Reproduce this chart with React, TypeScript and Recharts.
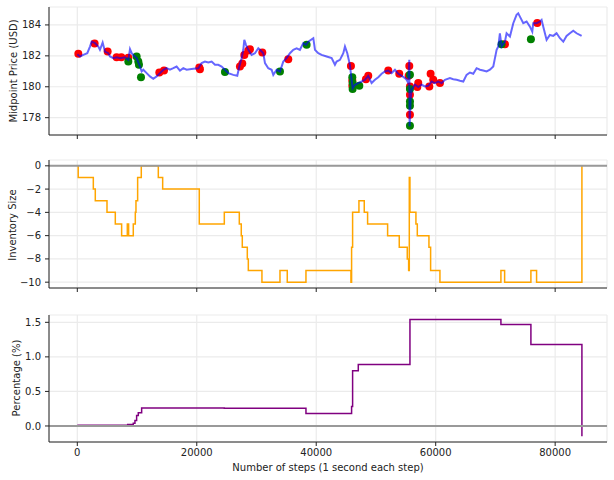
import React from 'react';
import {
  ComposedChart, Line, Scatter, XAxis, YAxis, CartesianGrid, ReferenceLine,
} from 'recharts';

// shared x axis (steps)
const xTicks = [0, 20000, 40000, 60000, 80000];
const xDomain = [-4740, 88680];

// midpoint price
const priceSteps = [
  0, 450, 1000, 1670, 2120, 2400, 2960, 3520, 3790, 4240,
  4630, 5190, 5470, 6030, 6580, 7140, 7980, 8540, 8820, 9100,
  9370, 9930, 10490, 10770, 11050, 11610, 12160, 12720, 13280, 13840,
  14400, 14950, 15510, 16070, 16630, 17190, 17740, 18300, 19420, 20260,
  20810, 21370, 21930, 22490, 23050, 23600, 24160, 24720, 25280, 26110,
  26780, 27120, 27510, 27790, 27960, 28240, 28630, 29180, 29740, 30300,
  30580, 31140, 31420, 31970, 32530, 32810, 33370, 33930, 34480, 35040,
  35600, 36160, 36720, 37270, 37830, 38280, 38670, 39510, 39790, 40340,
  40900, 41740, 42580, 43130, 43410, 43970, 44530, 44810, 45200, 45640,
  45920, 46090, 46480, 47040, 47600, 48160, 48710, 49270, 49830, 50390,
  50950, 51500, 52060, 52620, 53180, 53740, 54290, 54850, 55130, 55410,
  55580, 55630, 55800, 55970, 56530, 57080, 57640, 58200, 58760, 59320,
  59870, 60430, 60990, 61550, 62380, 62940, 63500, 64060, 64620, 65170,
  65730, 66290, 66850, 67410, 67960, 68520, 69080, 69640, 69920, 70200,
  70480, 70750, 71030, 71590, 71870, 72430, 72990, 73540, 73820, 74100,
  74660, 75220, 75780, 76170, 76330, 76890, 77450, 77730, 78010, 78570,
  79120, 79680, 80240, 80800, 81360, 81910, 82470, 83030, 83590, 84430,
];
const priceValues = [
  182.11, 181.96, 182.06, 182.17, 182.6, 182.92, 182.82, 182.6, 182.39, 182.86,
  182.28, 182.17, 181.96, 181.85, 181.91, 181.85, 181.91, 181.74, 182.43, 182.17,
  182.06, 181.85, 181.31, 180.99, 181.1, 180.88, 180.67, 180.52, 180.67, 180.88,
  181.1, 181.2, 181.1, 181.2, 181.31, 181.05, 181.2, 181.1, 181.16, 181.2,
  181.53, 181.63, 181.57, 181.63, 181.42, 181.42, 181.31, 181.1, 180.88, 180.77,
  180.71, 181.31, 181.85, 182.39, 183.03, 182.71, 182.39, 182.06, 182.17, 182.49,
  182.39, 182.17, 181.53, 181.2, 181.1, 180.77, 181.1, 180.99, 181.63, 181.85,
  182.17, 182.39, 182.49, 182.39, 182.82, 182.71, 182.92, 183.14, 182.39, 182.17,
  182.06, 181.96, 181.85, 181.42, 181.63, 181.74, 182.17, 182.6, 182.17, 181.42,
  180.45, 179.91, 180.13, 180.24, 180.34, 180.45, 180.71, 180.24, 180.45, 180.62,
  180.84, 180.99, 181.05, 180.88, 181.1, 180.84, 180.71, 180.56, 180.45, 180.24,
  181.74, 177.44, 179.16, 179.81, 180.13, 179.98, 180.13, 180.02, 180.06, 180.34,
  180.24, 180.34, 180.24, 180.45, 180.56, 180.49, 180.45, 180.39, 180.34, 180.77,
  180.92, 180.84, 181.2, 181.1, 181.05, 180.99, 181.1, 181.31, 181.85, 182.39,
  182.6, 183.46, 182.6, 182.92, 183.46, 183.25, 184.11, 184.65, 184.75, 184.54,
  184.11, 184.22, 183.89, 183.57, 184.11, 184.11, 184.22, 184.32, 183.89, 183.03,
  183.35, 183.29, 183.46, 183.14, 182.92, 183.29, 183.46, 183.63, 183.46, 183.29,
];

// executed trades
const sellSteps = [
  170, 2900, 5080, 6580, 7370, 8540, 13730, 14510, 20420, 20530,
  27230, 27620, 27960, 28630, 28900, 30970, 35320, 45810, 46040, 46040,
  48320, 48710, 52060, 53900, 55580, 55470, 55690, 55690, 55690, 56920,
  57080, 58930, 59150, 59590, 60710, 71590, 77000,
];
const sellPrices = [
  182.13, 182.8, 182.28, 181.91, 181.91, 181.87, 180.92, 181.05, 181.25, 181.14,
  181.31, 181.51, 182.06, 182.34, 182.43, 182.22, 181.78, 181.35, 180.41, 180.06,
  180.49, 180.71, 181.05, 180.84, 181.35, 180.71, 180.02, 179.48, 178.19, 179.98,
  180.24, 180.02, 180.84, 180.45, 180.24, 182.75, 184.13,
];
const buySteps = [
  8540, 9930, 10210, 10320, 10660, 24720, 33930, 38390, 46040, 46090,
  46090, 47210, 55690, 55690, 55690, 55690, 55690, 71030, 75940,
];
const buyPrices = [
  181.63, 181.96, 181.63, 181.42, 180.62, 180.95, 180.99, 182.71, 180.62, 180.24,
  179.85, 180.06, 180.77, 179.85, 179.05, 178.77, 177.48, 182.75, 183.08,
];

// inventory
const invSteps = [
  0, 150, 2680, 3010, 4970, 6360, 7420, 8370, 8590, 9370,
  9710, 9820, 10100, 10710, 13560, 14290, 20420, 24610, 27120, 27450,
  27620, 28460, 28630, 30910, 33930, 35150, 38280, 45810, 45920, 46090,
  47150, 48040, 48600, 51950, 53900, 55240, 55470, 55580, 55690, 56690,
  56920, 58870, 59150, 60710, 70920, 71540, 75940, 76890, 84480,
];
const invValues = [
  0, -1, -2, -3, -4, -5, -6, -5, -6, -5,
  -4, -3, -1, 0, -1, -2, -5, -4, -5, -6,
  -7, -8, -9, -10, -9, -10, -9, -10, -7, -4,
  -3, -4, -5, -6, -7, -8, -9, -1, -4, -5,
  -6, -7, -9, -10, -9, -10, -9, -10, 0,
];

// pnl in percent
const pnlSteps = [0, 8430, 9370, 9650, 9930, 10210, 10770, 24610, 38280, 45920, 46090, 47040, 55690, 70920, 75940, 84480];
const pnlValues = [0.01, 0.02, 0.04, 0.08, 0.15, 0.19, 0.26, 0.255, 0.18, 0.28, 0.8, 0.89, 1.54, 1.47, 1.18, -0.15];

const priceTicks = [178, 180, 182, 184];
const invTicks = [0, -2, -4, -6, -8, -10];
const pnlTicks = [0, 0.5, 1, 1.5];

const zip = (xs: number[], ys: number[]) => xs.map((x, i) => ({ x, y: ys[i] }));
const priceData = zip(priceSteps, priceValues);
const sellData = zip(sellSteps, sellPrices);
const buyData = zip(buySteps, buyPrices);
const invData = zip(invSteps, invValues);
const pnlData = zip(pnlSteps, pnlValues);

const FONT = '"DejaVu Sans", Arial, sans-serif';
const INK = '#222222';
const GRID = '#ebebeb';
const tickStyle = { fontSize: 10, fill: INK, fontFamily: FONT };
const minus = (v: number) => String(v).replace('-', '\u2212');

const noLabel = () => <g />;

function dot(color: string) {
  return (p: any) => <circle cx={p.cx} cy={p.cy} r={4} fill={color} />;
}

function YLabel({ text, x, y }: { text: string; x: number; y: number }) {
  return (
    <div style={{
      position: 'absolute', left: x, top: y, fontSize: 10, color: INK, fontFamily: FONT,
      transform: 'translate(-50%, -50%) rotate(-90deg)', whiteSpace: 'nowrap',
    }}>{text}</div>
  );
}

export default function App() {
  return (
    <div style={{ position: 'absolute', left: 0, top: 0, width: 614, height: 480, background: '#fff', fontFamily: FONT }}>
      <div style={{ position: 'absolute', left: 0, top: 0 }}>
        <ComposedChart width={614} height={150} margin={{ top: 7, right: 7, bottom: 0, left: 0 }}>
          <CartesianGrid stroke={GRID} strokeWidth={1.2} />
          <XAxis dataKey="x" type="number" domain={xDomain} ticks={xTicks} allowDataOverflow
            height={15} tick={noLabel} tickSize={4} axisLine={{ stroke: INK }} tickLine={{ stroke: INK }} />
          <XAxis xAxisId="top" orientation="top" type="number" domain={xDomain} height={0}
            tick={false} tickLine={false} axisLine={{ stroke: INK }} />
          <YAxis type="number" domain={[176.88, 185.16]} ticks={priceTicks} allowDataOverflow width={49}
            tick={tickStyle} tickSize={4} tickMargin={4} axisLine={{ stroke: INK }} tickLine={{ stroke: INK }} />
          <YAxis yAxisId="right" orientation="right" width={0} domain={[0, 1]} tick={false} tickLine={false}
            axisLine={{ stroke: INK }} />
          <Scatter data={sellData} dataKey="y" fill="#ff0000" shape={dot('#ff0000')} isAnimationActive={false} zIndex={500} />
          <Scatter data={buyData} dataKey="y" fill="#008000" shape={dot('#008000')} isAnimationActive={false} zIndex={500} />
          <Line data={priceData} dataKey="y" type="linear" stroke="#0000ff" strokeOpacity={0.6} strokeWidth={2}
            dot={false} isAnimationActive={false} zIndex={800} />
        </ComposedChart>
      </div>

      <div style={{ position: 'absolute', left: 0, top: 150 }}>
        <ComposedChart width={614} height={150} margin={{ top: 10, right: 7, bottom: 0, left: 0 }}>
          <CartesianGrid stroke={GRID} strokeWidth={1.2} />
          <XAxis dataKey="x" type="number" domain={xDomain} ticks={xTicks} allowDataOverflow
            height={12} tick={noLabel} tickSize={4} axisLine={{ stroke: INK }} tickLine={{ stroke: INK }} />
          <XAxis xAxisId="top" orientation="top" type="number" domain={xDomain} height={0}
            tick={false} tickLine={false} axisLine={{ stroke: INK }} />
          <YAxis type="number" domain={[-10.5, 0.5]} ticks={invTicks} allowDataOverflow width={49}
            tick={tickStyle} tickFormatter={minus} tickSize={4} tickMargin={4}
            axisLine={{ stroke: INK }} tickLine={{ stroke: INK }} />
          <YAxis yAxisId="right" orientation="right" width={0} domain={[0, 1]} tick={false} tickLine={false}
            axisLine={{ stroke: INK }} />
          <Line data={invData} dataKey="y" type="stepAfter" stroke="#ffa500" strokeWidth={1.5}
            dot={false} isAnimationActive={false} />
          <ReferenceLine y={0} stroke="#999999" strokeWidth={2} />
        </ComposedChart>
      </div>

      <div style={{ position: 'absolute', left: 0, top: 300 }}>
        <ComposedChart width={614} height={180} margin={{ top: 15, right: 7, bottom: 0, left: 0 }}>
          <CartesianGrid stroke={GRID} strokeWidth={1.2} />
          <XAxis dataKey="x" type="number" domain={xDomain} ticks={xTicks} allowDataOverflow
            height={38} tick={tickStyle} tickSize={4} tickMargin={3}
            axisLine={{ stroke: INK }} tickLine={{ stroke: INK }}
            label={{ value: 'Number of steps (1 second each step)', position: 'insideBottom', offset: 9, fontSize: 10, fill: INK, fontFamily: FONT }} />
          <XAxis xAxisId="top" orientation="top" type="number" domain={xDomain} height={0}
            tick={false} tickLine={false} axisLine={{ stroke: INK }} />
          <YAxis type="number" domain={[-0.232, 1.606]} ticks={pnlTicks} allowDataOverflow width={49}
            tick={tickStyle} tickFormatter={(v: number) => v.toFixed(1)} tickSize={4} tickMargin={4}
            axisLine={{ stroke: INK }} tickLine={{ stroke: INK }} />
          <YAxis yAxisId="right" orientation="right" width={0} domain={[0, 1]} tick={false} tickLine={false}
            axisLine={{ stroke: INK }} />
          <Line data={pnlData} dataKey="y" type="stepAfter" stroke="#800080" strokeWidth={1.5}
            dot={false} isAnimationActive={false} />
          <ReferenceLine y={0} stroke="#999999" strokeWidth={2} />
        </ComposedChart>
      </div>

      <YLabel text="Midpoint Price (USD)" x={12.5} y={71} />
      <YLabel text="Inventory Size" x={11.5} y={225} />
      <YLabel text="Percentage (%)" x={15.5} y={378} />
    </div>
  );
}
